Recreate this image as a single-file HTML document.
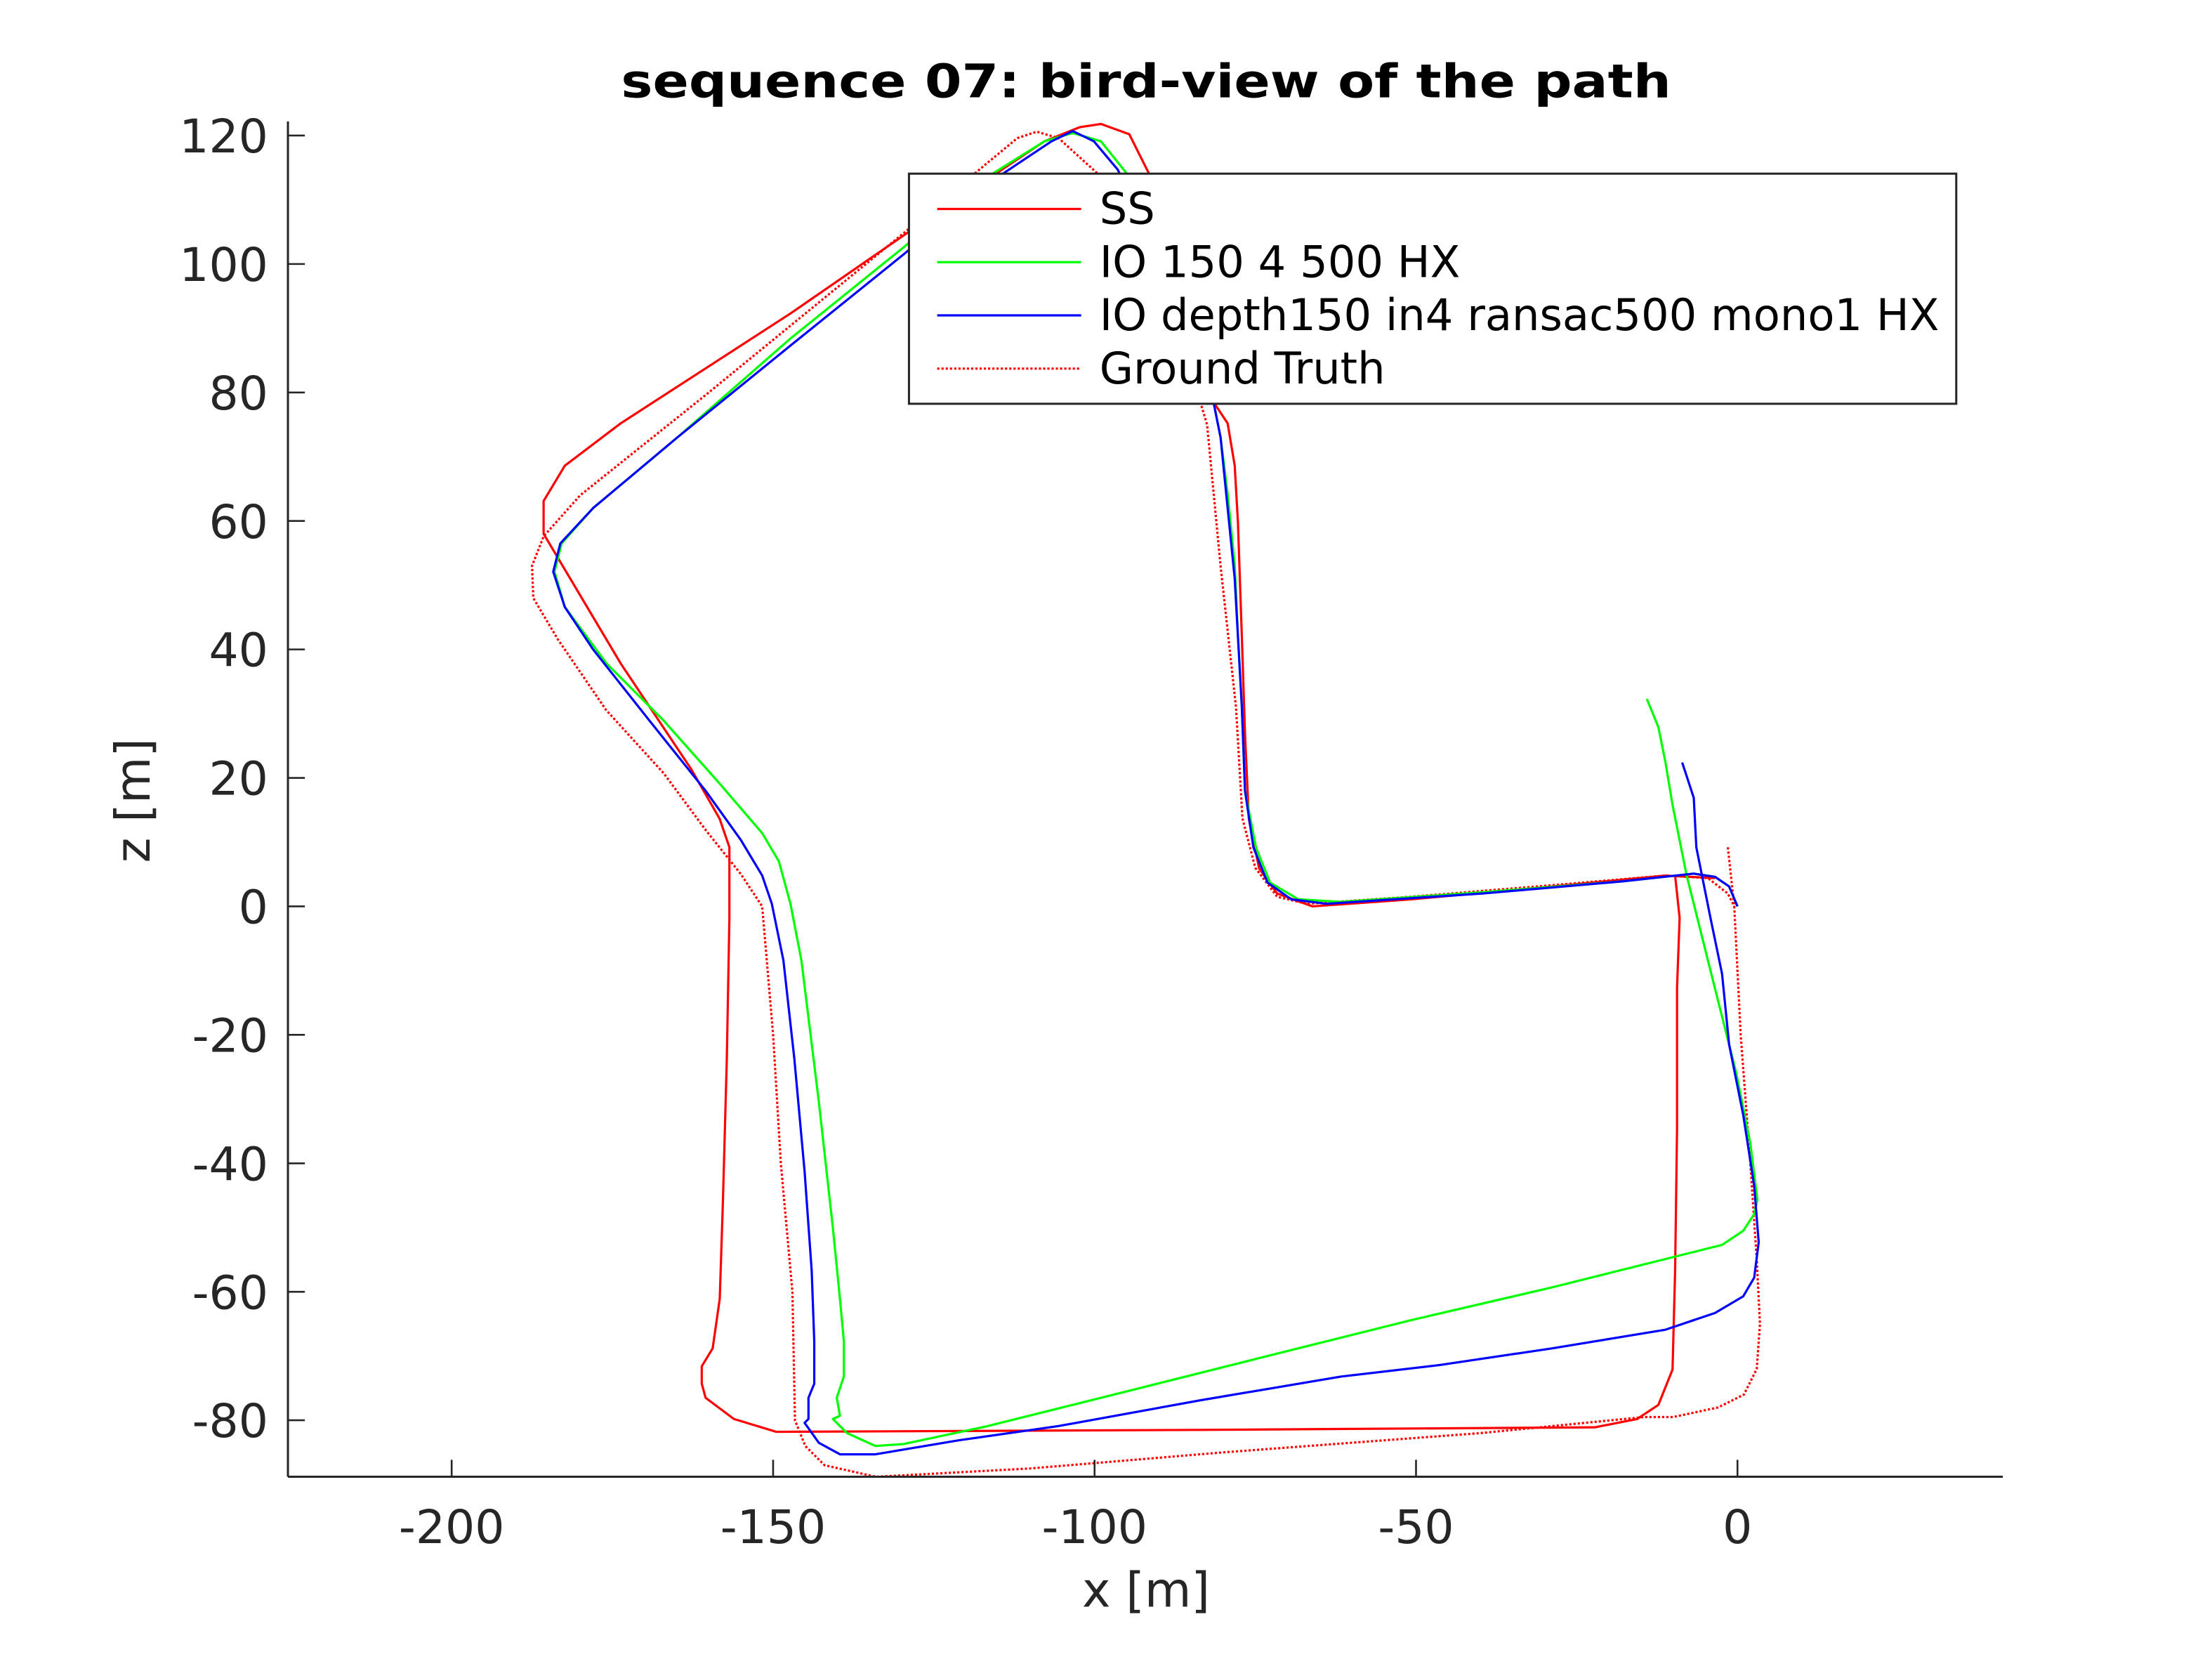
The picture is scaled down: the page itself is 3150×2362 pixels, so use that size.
<!DOCTYPE html>
<html><head><meta charset="utf-8"><style>
html,body{margin:0;padding:0;background:#fff;}
svg{display:block;font-family:"DejaVu Sans","Liberation Sans",sans-serif;}
</style></head><body>
<svg id="chart" width="3150" height="2362" viewBox="0 0 1567.2 1175.1" preserveAspectRatio="none" xmlns="http://www.w3.org/2000/svg">
<rect x="0" y="0" width="1567.2" height="1175.1" fill="#fff"/>
<text x="812" y="69" text-anchor="middle" font-size="33" font-weight="bold" fill="#000" textLength="744" lengthAdjust="spacingAndGlyphs">sequence 07: bird-view of the path</text>
<g id="plot"></g>
<g id="axes"></g>
<g id="legend"></g>
</svg>
<script>
const xTicks=[-200,-150,-100,-50,0];
const zTicks=[120,100,80,60,40,20,0,-20,-40,-60,-80];
const seriesNames=["SS","IO 150 4 500 HX","IO depth150 in4 ransac500 mono1 HX","Ground Truth"];
const ssX=[-9.7,-9.0,-9.4,-9.4,-9.7,-10.1,-12.3,-15.6,-22.2,-83.6,-149.5,-156.1,-160.5,-161.1,-161.1,-159.4,-158.3,-157.8,-157.2,-156.8,-156.8,-158.3,-162.7,-173.7,-185.7,-185.7,-182.4,-173.7,-147.3,-127.6,-107.8,-102.3,-99.0,-94.6,-91.3,-85.8,-81.5,-79.3,-78.2,-77.7,-77.1,-76.6,-76.0,-74.4,-71.6,-66.1,-50.7,-28.8,-11.2,-3.5];
const ssZ=[4.8,-1.8,-12.7,-34.7,-56.7,-72.1,-77.6,-79.8,-81.1,-81.5,-81.8,-79.8,-76.5,-74.3,-71.6,-68.8,-61.1,-45.7,-23.7,-1.8,9.2,13.6,21.3,37.8,58.0,63.1,68.6,75.2,92.3,105.9,119.1,121.3,121.8,120.2,113.6,97.1,78.5,75.2,68.6,59.8,42.2,26.8,13.6,5.9,2.0,0.0,1.1,3.1,4.8,4.4];
const ioX=[-14.1,-12.3,-11.2,-10.1,-7.9,-4.6,-0.2,2.0,3.1,2.6,0.9,-2.4,-11.2,-28.8,-50.7,-72.7,-94.6,-116.6,-129.7,-134.1,-138.5,-140.7,-139.6,-140.1,-139.0,-139.0,-139.6,-140.7,-142.9,-145.6,-147.3,-149.1,-151.7,-158.3,-167.1,-175.9,-182.4,-184.0,-182.9,-178.0,-164.9,-147.3,-129.7,-116.6,-107.8,-103.4,-99.0,-94.6,-85.8,-81.5,-80.4,-79.3,-78.2,-77.7,-77.1,-76.6,-74.9,-72.7,-68.3,-61.7,-39.7,-17.8,-6.8,-3.5,-1.3,0];
const ioZ=[32.3,27.9,22.4,15.8,4.8,-8.4,-25.9,-36.9,-45.7,-47.9,-50.5,-52.7,-54.9,-59.3,-64.4,-69.9,-75.4,-80.9,-83.7,-84.0,-82.0,-79.8,-79.3,-76.5,-73.2,-67.7,-61.1,-50.1,-30.3,-8.4,0.4,7.0,11.4,19.1,29.0,37.8,46.6,52.1,56.5,62.0,73.0,88.4,102.6,113.6,119.1,120.4,119.1,113.6,92.7,78.5,73.0,64.2,53.2,42.2,31.2,18.0,9.2,3.7,1.1,0.7,2.2,3.9,5.1,4.6,3.1,0];
const monoX=[-8.6,-6.8,-6.4,-4.2,-2.4,-1.3,0.9,2.6,3.3,2.6,0.9,-3.5,-11.2,-28.8,-46.3,-61.7,-83.6,-105.6,-121.0,-134.1,-139.6,-142.9,-145.1,-144.5,-144.5,-143.6,-143.6,-144.0,-145.1,-146.7,-148.4,-150.2,-151.7,-155.0,-160.5,-169.3,-178.0,-182.4,-184.2,-183.1,-178.0,-164.9,-147.3,-129.7,-116.6,-106.7,-103.4,-100.1,-96.4,-85.8,-81.5,-80.4,-79.3,-78.2,-77.1,-76.6,-75.3,-73.1,-69.4,-63.9,-39.7,-17.8,-6.8,-3.5,-1.3,0];
const monoZ=[22.4,16.9,9.2,-1.8,-10.5,-21.5,-32.5,-43.5,-52.3,-57.8,-60.7,-63.3,-65.9,-68.8,-71.4,-73.2,-76.9,-80.9,-83.1,-85.3,-85.3,-83.5,-80.4,-79.8,-76.5,-74.3,-67.7,-56.7,-41.3,-23.7,-8.4,0.4,4.8,10.3,18.0,29.0,40.0,46.6,52.1,56.5,62.0,73.0,87.3,101.5,112.5,119.1,120.7,119.1,114.7,92.7,78.5,73.0,62.0,51.0,31.2,18.0,9.2,3.7,1.1,0.4,2.0,3.9,5.1,4.6,3.1,0];
const gtX=[-1.5,-0.5,0.5,2,3,3.5,3,1,-3,-10,-14.5,-40,-80,-110,-134,-142,-145,-146.6,-147,-148.8,-150,-151.7,-155,-160.5,-167,-176,-183.5,-187.3,-187.5,-185.7,-180,-160.5,-129.7,-116.6,-112,-109,-105.6,-99,-85.8,-82.5,-80.4,-78,-77,-75,-71.6,-67,-50.7,-28.8,-11.2,-4.6,-1.5,-0.5];
const gtZ=[9.2,0,-20,-40,-55,-65,-72,-76,-78,-79.5,-79.5,-82,-85,-87.5,-88.8,-87,-84,-80,-60,-40,-20,0,5,11.9,20.7,30.6,41.6,48,53,57.6,64,79.6,104.8,115.8,119.6,120.6,119.6,113.6,86,75,53,31,13.7,6,1.5,0.4,1.5,3.3,4.8,4.4,2,0];

const L=204,R=1419,T=86,B=1046;
const X0=1231,XS=4.555,Y0=96,ZS=4.55;
function sx(x){return X0+x*XS;}
function sy(z){return Y0+(120-z)*ZS;}
const NS="http://www.w3.org/2000/svg";
function mk(tag,attrs,parent){const e=document.createElementNS(NS,tag);for(const k in attrs)e.setAttribute(k,attrs[k]);parent.appendChild(e);return e;}

const plot=document.getElementById('plot');
const cp=mk('clipPath',{id:'clip'},plot);
mk('rect',{x:L,y:T,width:R-L,height:B-T},cp);
const pg=mk('g',{'clip-path':'url(#clip)'},plot);
function drawLine(xs,zs,color,dash,name){
  let d='';
  for(let i=0;i<xs.length;i++){d+=(i?'L':'M')+sx(xs[i]).toFixed(2)+','+sy(zs[i]).toFixed(2);}
  const p=mk('path',{d:d,fill:'none',stroke:color,'stroke-width':1.6,'stroke-linejoin':'round'},pg);
  if(dash)p.setAttribute('stroke-dasharray',dash);
  
  
}
drawLine(gtX,gtZ,'#ff0000','1.6,1.4','ground-truth-line');
drawLine(ssX,ssZ,'#ff0000',null,'ss-line');
drawLine(ioX,ioZ,'#00ff00',null,'io-150-line');
drawLine(monoX,monoZ,'#0000ff',null,'io-mono-line');

const ax=document.getElementById('axes');
const yl=mk('line',{x1:L,y1:T,x2:L,y2:B,stroke:'#262626','stroke-width':1.5},ax);


const xl=mk('line',{x1:L,y1:B,x2:R,y2:B,stroke:'#262626','stroke-width':1.5},ax);


xTicks.forEach(v=>{
  mk('line',{x1:sx(v),y1:B,x2:sx(v),y2:B-12,stroke:'#262626','stroke-width':1.3},ax);
  const t=mk('text',{x:sx(v),y:1093,'text-anchor':'middle','font-size':33,fill:'#262626'},ax);
  t.textContent=v;
  
  
});
zTicks.forEach(v=>{
  mk('line',{x1:L,y1:sy(v),x2:L+12,y2:sy(v),stroke:'#262626','stroke-width':1.3},ax);
  const t=mk('text',{x:190,y:sy(v)+12,'text-anchor':'end','font-size':33,fill:'#262626'},ax);
  t.textContent=v;
  
  
});
const xt=mk('text',{x:812,y:1138,'text-anchor':'middle','font-size':34,fill:'#262626'},ax);
xt.textContent='x [m]';


const yt=mk('text',{x:0,y:0,'text-anchor':'middle','font-size':34,fill:'#262626',transform:'translate(106,567) rotate(-90)'},ax);
yt.textContent='z [m]';



const lg=document.getElementById('legend');


mk('rect',{x:644,y:123,width:742,height:163,fill:'#fff',stroke:'#262626','stroke-width':1.5},lg);
const colors=['#ff0000','#00ff00','#0000ff','#ff0000'];
const dashes=[null,null,null,'1.6,1.4'];
seriesNames.forEach((n,i)=>{
  const y=148+i*37.7;
  const ln=mk('line',{x1:664,y1:y,x2:766,y2:y,stroke:colors[i],'stroke-width':1.6},lg);
  if(dashes[i])ln.setAttribute('stroke-dasharray',dashes[i]);
  
  
  const t=mk('text',{x:779,y:y+10.5,'font-size':31,fill:'#000'},lg);
  t.textContent=n;
  
  
});
</script>
</body></html>
